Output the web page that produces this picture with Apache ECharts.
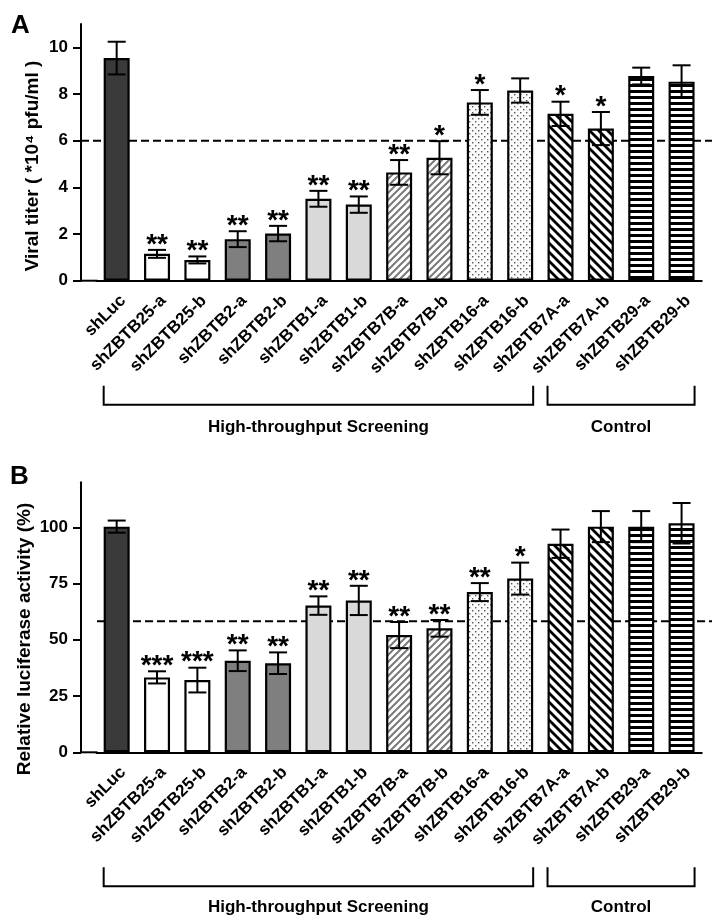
<!DOCTYPE html>
<html><head><meta charset="utf-8">
<script src="https://cdn.jsdelivr.net/npm/echarts@6/dist/echarts.min.js"></script>
<style>html,body{margin:0;padding:0;background:#fff}#c{width:712px;height:916px}</style>
</head><body><div id="c"></div>
<script>
const categories = ['shLuc','shZBTB25-a','shZBTB25-b','shZBTB2-a','shZBTB2-b','shZBTB1-a','shZBTB1-b','shZBTB7B-a','shZBTB7B-b','shZBTB16-a','shZBTB16-b','shZBTB7A-a','shZBTB7A-b','shZBTB29-a','shZBTB29-b'];
const fills = ['dark','white','white','mid','mid','light','light','hatchGray','hatchGray','dots','dots','hatchBlack','hatchBlack','hstripe','hstripe'];
const titerMean = [9.54,1.15,0.89,1.78,2.02,3.51,3.26,4.64,5.27,7.64,8.15,7.15,6.52,8.77,8.53];
const titerErr  = [0.70,0.17,0.15,0.34,0.33,0.34,0.35,0.53,0.71,0.53,0.52,0.52,0.71,0.36,0.70];
const titerSig  = ['','**','**','**','**','**','**','**','*','*','','*','*','',''];
const lucMean = [100.3,33.3,32.1,40.7,39.6,65.2,67.5,52.1,55.1,71.2,77.2,92.7,100.3,100.3,101.8];
const lucErr  = [2.7,2.7,5.5,4.6,4.8,4.1,6.5,5.8,3.7,4.0,7.1,6.3,6.9,6.9,9.0];
const lucSig  = ['','***','***','**','**','**','**','**','**','**','*','','','',''];
const titerTicks = [0,2,4,6,8,10];
const lucTicks = [0,25,50,75,100];
const titerCutoff = 6;
const lucCutoff = 58.3;
const groupNames = ['High-throughput Screening','Control'];
const groupFrom = [0, 11];
const groupTo = [10, 14];
const titerTitle = 'Viral titer ( *10⁴ pfu/ml )';
const lucTitle = 'Relative luciferase activity (%)';

const FONT = "'Liberation Sans', Arial, Helvetica, sans-serif";

function makePattern(kind){
  const c = document.createElement('canvas');
  let s;
  if (kind==='hatchGray'){ s=7; c.width=s; c.height=s; const g=c.getContext('2d');
    g.fillStyle='#fff'; g.fillRect(0,0,s,s); g.strokeStyle='#7a7a7a'; g.lineWidth=2;
    g.beginPath(); g.moveTo(-1,s+1); g.lineTo(s+1,-1); g.moveTo(-1,1); g.lineTo(1,-1); g.moveTo(s-1,s+1); g.lineTo(s+1,s-1); g.stroke();
  } else if (kind==='hatchBlack'){ s=9; c.width=s; c.height=s; const g=c.getContext('2d');
    g.fillStyle='#fff'; g.fillRect(0,0,s,s); g.strokeStyle='#000'; g.lineWidth=2.8;
    g.beginPath(); g.moveTo(-1,-1); g.lineTo(s+1,s+1); g.moveTo(s-2,-2); g.lineTo(s+2,2); g.moveTo(-2,s-2); g.lineTo(2,s+2); g.stroke();
  } else if (kind==='hstripe'){ c.width=4; c.height=6; const g=c.getContext('2d');
    g.fillStyle='#fff'; g.fillRect(0,0,4,6); g.fillStyle='#000'; g.fillRect(0,0,4,3);
  } else if (kind==='dots'){ s=6; c.width=s; c.height=s; const g=c.getContext('2d');
    g.fillStyle='#fbfbfb'; g.fillRect(0,0,s,s); g.fillStyle='#555';
    g.fillRect(1,1,1.4,1.4); g.fillRect(4,4,1.4,1.4);
  }
  return {image:c, repeat:'repeat'};
}
const solid = {dark:'#3a3a3a', white:'#ffffff', mid:'#7f7f7f', light:'#d9d9d9'};
function fillOf(k){ return solid[k] || makePattern(k); }

const GL = 96.5, GW = 605.25, YOFF = 15.5;
const BW = 26;

function barSeries(idx, means){
  return {type:'bar', xAxisIndex:idx, yAxisIndex:idx, barWidth:BW, z:2,
    data: means.map((m,i)=>({value:m, itemStyle:{color:fillOf(fills[i]), borderColor:'#000', borderWidth:2.2}})),
    animation:false};
}
function errSeries(idx, means, errs, sigs){
  return {type:'custom', xAxisIndex:idx, yAxisIndex:idx, z:5, animation:false,
    data: means.map((m,i)=>[i,m,errs[i]]),
    renderItem:(params, api)=>{
      const i=api.value(0), m=api.value(1), e=api.value(2);
      const t=api.coord([i,m+e]), b=api.coord([i,m-e]);
      const hw=9, st={stroke:'#000', lineWidth:2};
      const ch=[
        {type:'line', shape:{x1:t[0],y1:t[1],x2:b[0],y2:b[1]}, style:st},
        {type:'line', shape:{x1:t[0]-hw,y1:t[1],x2:t[0]+hw,y2:t[1]}, style:st},
        {type:'line', shape:{x1:b[0]-hw,y1:b[1],x2:b[0]+hw,y2:b[1]}, style:st}
      ];
      if (sigs[i]) ch.push({type:'text', style:{text:sigs[i], x:t[0], y:t[1]-5, textAlign:'center', textVerticalAlign:'middle', font:'bold 28px '+FONT, fill:'#000'}});
      return {type:'group', children:ch};
    }};
}
function xAxis(idx){
  return {type:'category', gridIndex:idx, data:categories, boundaryGap:true,
    axisLine:{lineStyle:{color:'#000', width:2}},
    axisTick:{alignWithLabel:true, length:6, lineStyle:{color:'#000', width:2}},
    axisLabel:{rotate:45, interval:0, fontSize:17, fontWeight:'bold', color:'#000', margin:11, verticalAlign:'top', lineHeight:18, fontFamily:FONT}};
}
function yAxis(idx, max, interval, ticks){
  return {type:'value', gridIndex:idx, min:0, max:max, interval:interval, offset:YOFF,
    axisLine:{show:true, lineStyle:{color:'#000', width:2}},
    axisTick:{show:true, length:8, customValues:ticks, lineStyle:{color:'#000', width:2}},
    axisLabel:{customValues:ticks, fontSize:17, fontWeight:'bold', color:'#000', margin:13, fontFamily:FONT},
    splitLine:{show:false}};
}

const chart = echarts.init(document.getElementById('c'), null, {renderer:'canvas'});
chart.setOption({
  backgroundColor:'#fff', animation:false,
  grid:[{left:GL, width:GW, top:24, height:256.7},{left:GL, width:GW, top:482.3, height:270}],
  xAxis:[xAxis(0), xAxis(1)],
  yAxis:[yAxis(0, 11, 2, titerTicks), yAxis(1, 120, 25, lucTicks)],
  series:[barSeries(0,titerMean), errSeries(0,titerMean,titerErr,titerSig), barSeries(1,lucMean), errSeries(1,lucMean,lucErr,lucSig)]
});

function decorations(idx, cutoff, bracketTop, textOff, cutStart){
  const g=[];
  const base = chart.convertToPixel({xAxisIndex:idx, yAxisIndex:idx}, [0,0]);
  const cut = chart.convertToPixel({xAxisIndex:idx, yAxisIndex:idx}, [0,cutoff]);
  const ax = GL - YOFF;
  g.push({type:'line', z:-1, shape:{x1:cutStart===null?ax:cutStart, y1:cut[1], x2:712, y2:cut[1]}, style:{stroke:'#000', lineWidth:2, lineDash:[8,4]}});
  g.push({type:'line', z:10, shape:{x1:ax, y1:base[1], x2:GL+1, y2:base[1]}, style:{stroke:'#000', lineWidth:2}});
  for (let k=0;k<groupNames.length;k++){
    const xl = chart.convertToPixel({xAxisIndex:idx}, groupFrom[k]) - BW/2;
    const xr = chart.convertToPixel({xAxisIndex:idx}, groupTo[k]) + BW/2;
    const yt = base[1]+bracketTop, yb = yt+19;
    g.push({type:'polyline', shape:{points:[[xl,yt],[xl,yb],[xr,yb],[xr,yt]]}, style:{stroke:'#000', lineWidth:2, fill:null}});
    g.push({type:'text', style:{text:groupNames[k], x:(xl+xr)/2, y:base[1]+textOff, textAlign:'center', textVerticalAlign:'middle', font:'bold 17px '+FONT, fill:'#000'}});
  }
  return g;
}
const gfx = [].concat(
  decorations(0, titerCutoff, 105, 147, null),
  decorations(1, lucCutoff, 115, 155, 97),
  [
    {type:'text', style:{text:'A', x:11, y:26, textVerticalAlign:'middle', font:'bold 26px '+FONT, fill:'#000'}},
    {type:'text', style:{text:'B', x:10, y:477, textVerticalAlign:'middle', font:'bold 26px '+FONT, fill:'#000'}},
    {type:'text', rotation:Math.PI/2, x:33, y:166, style:{text:titerTitle, x:0, y:0, textAlign:'center', textVerticalAlign:'middle', font:'bold 19px '+FONT, fill:'#000'}},
    {type:'text', rotation:Math.PI/2, x:25, y:639, style:{text:lucTitle, x:0, y:0, textAlign:'center', textVerticalAlign:'middle', font:'bold 19px '+FONT, fill:'#000'}}
  ]);
chart.setOption({graphic:{elements:gfx}});
</script></body></html>
